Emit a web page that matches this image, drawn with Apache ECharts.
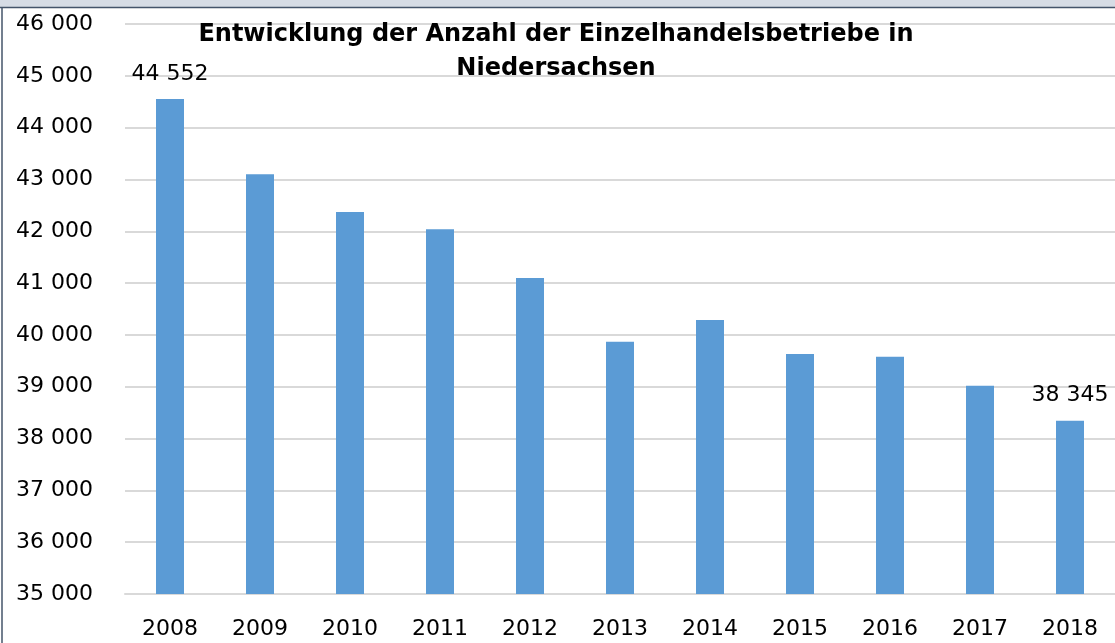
<!doctype html>
<html>
    <head>
        <meta charset="utf-8">
        <style>
            html, body { margin: 0; padding: 0; background: #fff; }
            #main { width: 1115px; height: 643px; }
        </style>
    </head>
    <body>
        <div id="main"></div>
        <script src="https://cdn.jsdelivr.net/npm/echarts@6/dist/echarts.min.js"></script>
        <script>
            var years = ['2008', '2009', '2010', '2011', '2012', '2013', '2014', '2015', '2016', '2017', '2018'];
            var betriebe = [44552, 43100, 42370, 42040, 41100, 39870, 40290, 39630, 39580, 39020, 38345];
            // only first and last year carry a value label
            var labelled = [0, 10];
            var yMin = 35000, yMax = 46000, yStep = 1000;

            function fmt(v) {
                return String(v).replace(/\B(?=(\d{3})+(?!\d))/g, ' ');
            }

            var chart = echarts.init(document.getElementById('main'));

            var font = '"DejaVu Sans", sans-serif';

            chart.setOption({
                animation: false,
                backgroundColor: '#fff',
                title: {
                    text: 'Entwicklung der Anzahl der Einzelhandelsbetriebe in\nNiedersachsen',
                    left: 551,
                    textAlign: 'center',
                    top: 13,
                    textStyle: {
                        fontFamily: '"DejaVu Sans", sans-serif',
                        fontWeight: 'bold',
                        fontSize: 24,
                        lineHeight: 34,
                        color: '#000'
                    }
                },
                graphic: [
                    { type: 'rect', shape: { x: 0, y: 0, width: 1115, height: 7 }, style: { fill: '#d6dce5' }, silent: true },
                    { type: 'line', shape: { x1: 0, y1: 7.5, x2: 1115, y2: 7.5 }, style: { stroke: '#44546a', lineWidth: 1.5 }, silent: true },
                    { type: 'line', shape: { x1: 2, y1: 7, x2: 2, y2: 643 }, style: { stroke: '#44546a', lineWidth: 1.5 }, silent: true }
                ],
                grid: {
                    left: 125,
                    right: -4,
                    top: 24,
                    bottom: 49,
                    containLabel: false
                },
                xAxis: {
                    type: 'category',
                    data: years,
                    axisLine: { lineStyle: { color: '#d9d9d9', width: 2 } },
                    axisTick: { show: false },
                    axisLabel: {
                        color: '#000',
                        fontFamily: font,
                        fontSize: 22,
                        margin: 24
                    }
                },
                yAxis: {
                    type: 'value',
                    min: yMin,
                    max: yMax,
                    interval: yStep,
                    axisLine: { show: false },
                    axisTick: { show: false },
                    splitLine: { lineStyle: { color: '#d9d9d9', width: 2 } },
                    axisLabel: {
                        color: '#000',
                        fontFamily: font,
                        fontSize: 22,
                        margin: 32,
                        formatter: fmt
                    }
                },
                series: [{
                    type: 'bar',
                    barWidth: 28,
                    itemStyle: { color: '#5b9bd5' },
                    data: betriebe.map(function (v, i) {
                        var d = { value: v };
                        if (labelled.indexOf(i) >= 0) {
                            d.label = {
                                show: true,
                                position: 'top',
                                distance: 14,
                                color: '#000',
                                fontFamily: font,
                                fontSize: 22,
                                formatter: function (p) { return fmt(p.value); }
                            };
                        }
                        return d;
                    })
                }]
            });

            window.onresize = chart.resize;
        </script>
    </body>
</html>
